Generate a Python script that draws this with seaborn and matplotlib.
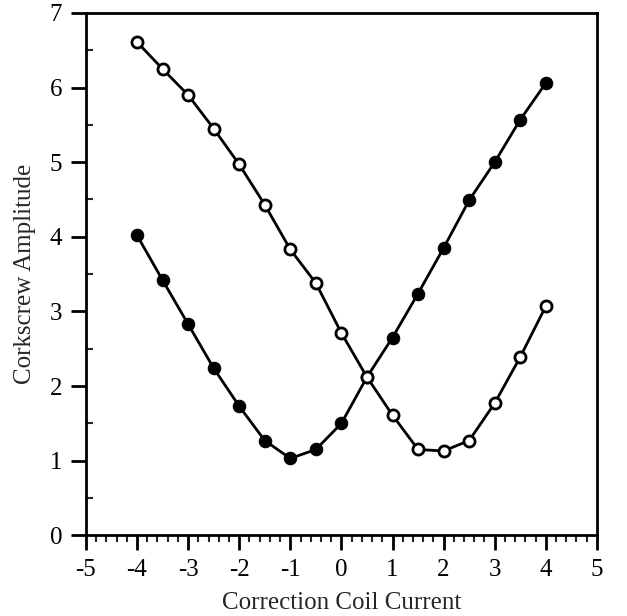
import numpy as np
import pandas as pd
import seaborn as sns
import matplotlib.pyplot as plt
from matplotlib.ticker import MultipleLocator

# Dados
corrente = [-4, -3.5, -3, -2.5, -2, -1.5, -1, -0.5, 0, 0.5, 1, 1.5, 2, 2.5, 3, 3.5, 4]
amp_cheio = [4.02, 3.42, 2.83, 2.24, 1.73, 1.27, 1.03, 1.15, 1.50, 2.12, 2.65, 3.24, 3.85, 4.49, 5.00, 5.57, 6.06]
amp_aberto = [6.61, 6.25, 5.90, 5.45, 4.97, 4.43, 3.83, 3.38, 2.71, 2.12, 1.61, 1.15, 1.13, 1.27, 1.77, 2.39, 3.07]

df = pd.DataFrame({"corrente": corrente, "cheio": amp_cheio, "aberto": amp_aberto})

sns.set_style("ticks")
plt.rcParams['font.family'] = ['Liberation Serif', 'DejaVu Serif']
plt.rcParams['axes.unicode_minus'] = False

fig = plt.figure(figsize=(6.27, 6.16), dpi=100)
ax = fig.add_axes([0.137, 0.131, 0.815, 0.848])

sns.lineplot(data=df, x="corrente", y="cheio", ax=ax, color="black", lw=2,
             marker="o", markersize=9, markerfacecolor="black", markeredgecolor="black")
sns.lineplot(data=df, x="corrente", y="aberto", ax=ax, color="black", lw=2,
             marker="o", markersize=8, markerfacecolor="white", markeredgecolor="black",
             markeredgewidth=2)

ax.set_xlim(-5, 5)
ax.set_ylim(0, 7)
ax.xaxis.set_major_locator(MultipleLocator(1))
ax.xaxis.set_minor_locator(MultipleLocator(0.2))
ax.yaxis.set_major_locator(MultipleLocator(1))
ax.yaxis.set_minor_locator(MultipleLocator(0.5))

for s in ax.spines.values():
    s.set_linewidth(2)
    s.set_color("black")
    s.set_visible(True)

ax.tick_params(axis="both", which="major", direction="out", length=11, width=2,
               labelsize=18, colors="black", pad=6)
ax.tick_params(axis="x", which="minor", direction="out", length=5, width=1.5)
ax.tick_params(axis="y", which="minor", direction="in", length=5, width=1.5)

ax.set_xlabel("Correction Coil Current", fontsize=18, labelpad=8)
ax.set_ylabel("Corkscrew Amplitude", fontsize=18, labelpad=10)

plt.savefig("out.png", dpi=100)
